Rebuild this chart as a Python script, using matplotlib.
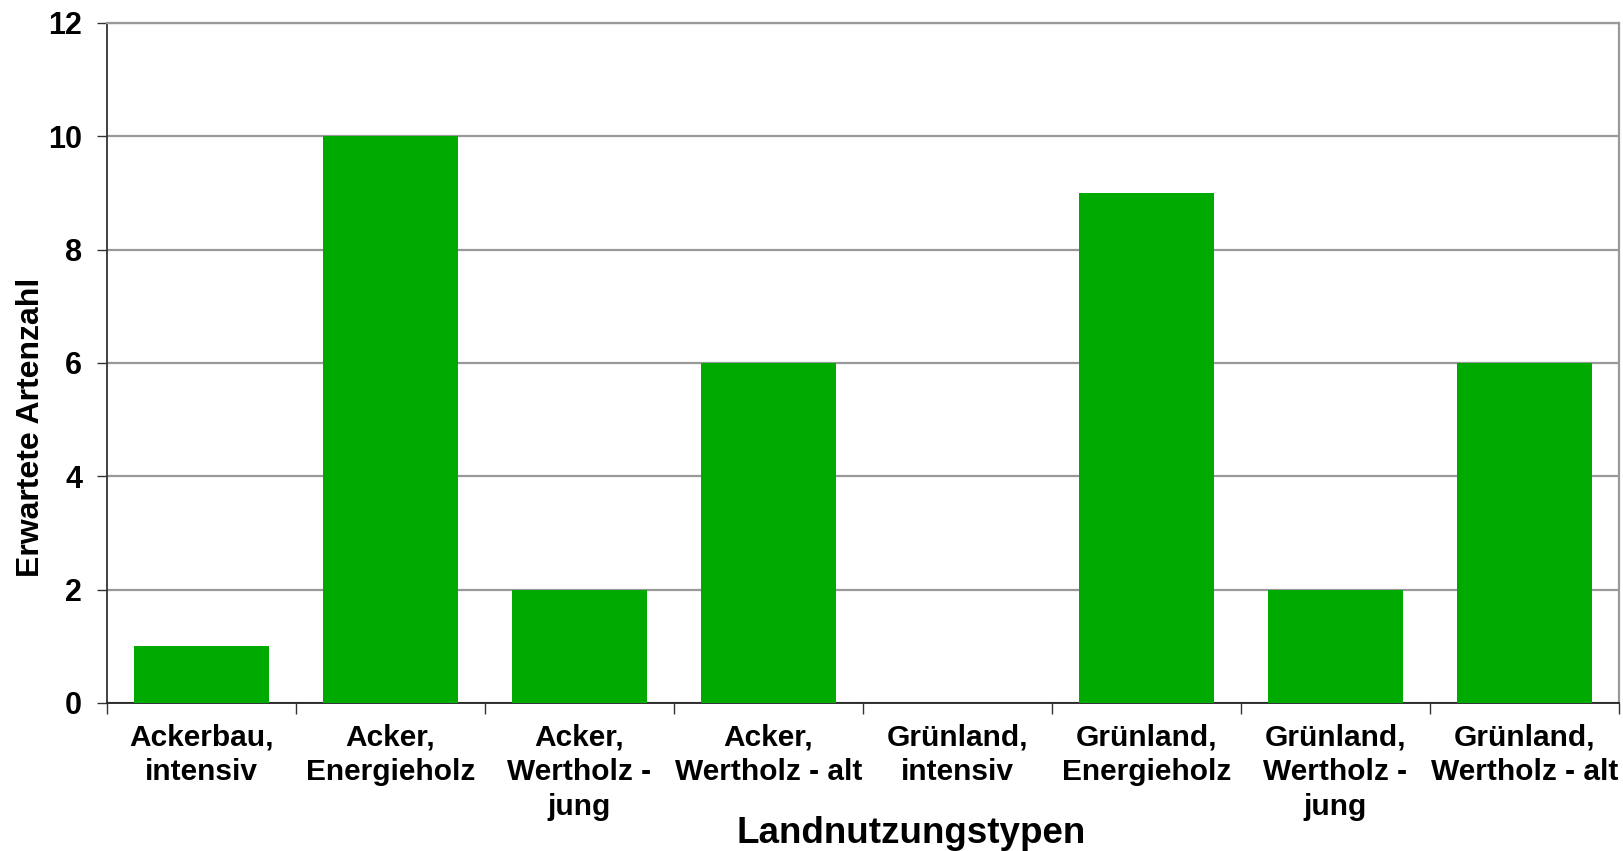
import numpy as np
import matplotlib
matplotlib.use("Agg")
import matplotlib.pyplot as plt

plt.rcParams['font.family'] = ['Liberation Sans', 'DejaVu Sans']
plt.rcParams['font.weight'] = 'bold'

categories = ["Ackerbau,\nintensiv", "Acker,\nEnergieholz", "Acker,\nWertholz -\njung",
              "Acker,\nWertholz - alt", "Grünland,\nintensiv", "Grünland,\nEnergieholz",
              "Grünland,\nWertholz -\njung", "Grünland,\nWertholz - alt"]
artenzahl = [1, 10, 2, 6, 0, 9, 2, 6]
y_ticks = [0, 2, 4, 6, 8, 10, 12]

fig = plt.figure(figsize=(16.23, 8.51), dpi=100)
ax = fig.add_axes([107/1623, 1 - 703/851, (1619 - 107)/1623, (703 - 23)/851])

x = np.arange(len(categories))
ax.bar(x, artenzahl, width=1/1.4, color="#00aa00", zorder=3)

ax.set_xlim(-0.5, len(categories) - 0.5)
ax.set_ylim(0, 12)
ax.set_yticks(y_ticks)
ax.yaxis.grid(True, color="#999999", linewidth=1.6, zorder=0)
ax.set_axisbelow(True)

# spines like the Excel original
ax.spines['top'].set_color("#999999")
ax.spines['top'].set_linewidth(1.6)
ax.spines['right'].set_color("#999999")
ax.spines['right'].set_linewidth(1.6)
ax.spines['left'].set_color("#333333")
ax.spines['left'].set_linewidth(1.3)
ax.spines['bottom'].set_color("#222222")
ax.spines['bottom'].set_linewidth(1.3)

ax.tick_params(axis='y', direction='out', length=7, width=1, color="#333333",
               labelsize=22, pad=11)
ax.set_xticks(x)
ax.set_xticklabels(categories, fontsize=21.5, linespacing=1.3)
ax.tick_params(axis='x', which='major', length=0, pad=15)
ax.set_xticks(np.arange(len(categories) + 1) - 0.5, minor=True)
ax.tick_params(axis='x', which='minor', direction='out', length=8, width=1, color="#333333")

ax.set_xlabel("Landnutzungstypen", fontsize=26.5, fontweight='bold')
ax.xaxis.label.set_va('baseline')
ax.xaxis.set_label_coords((911 - 107) / 1512, (703 - 843) / 680)

ax.set_ylabel("Erwartete Artenzahl", fontsize=23, fontweight='bold')
ax.yaxis.label.set_va('center')
ax.yaxis.set_label_coords((31 - 107) / 1512, (703 - 427) / 680)

fig.savefig("out.png", dpi=100)
